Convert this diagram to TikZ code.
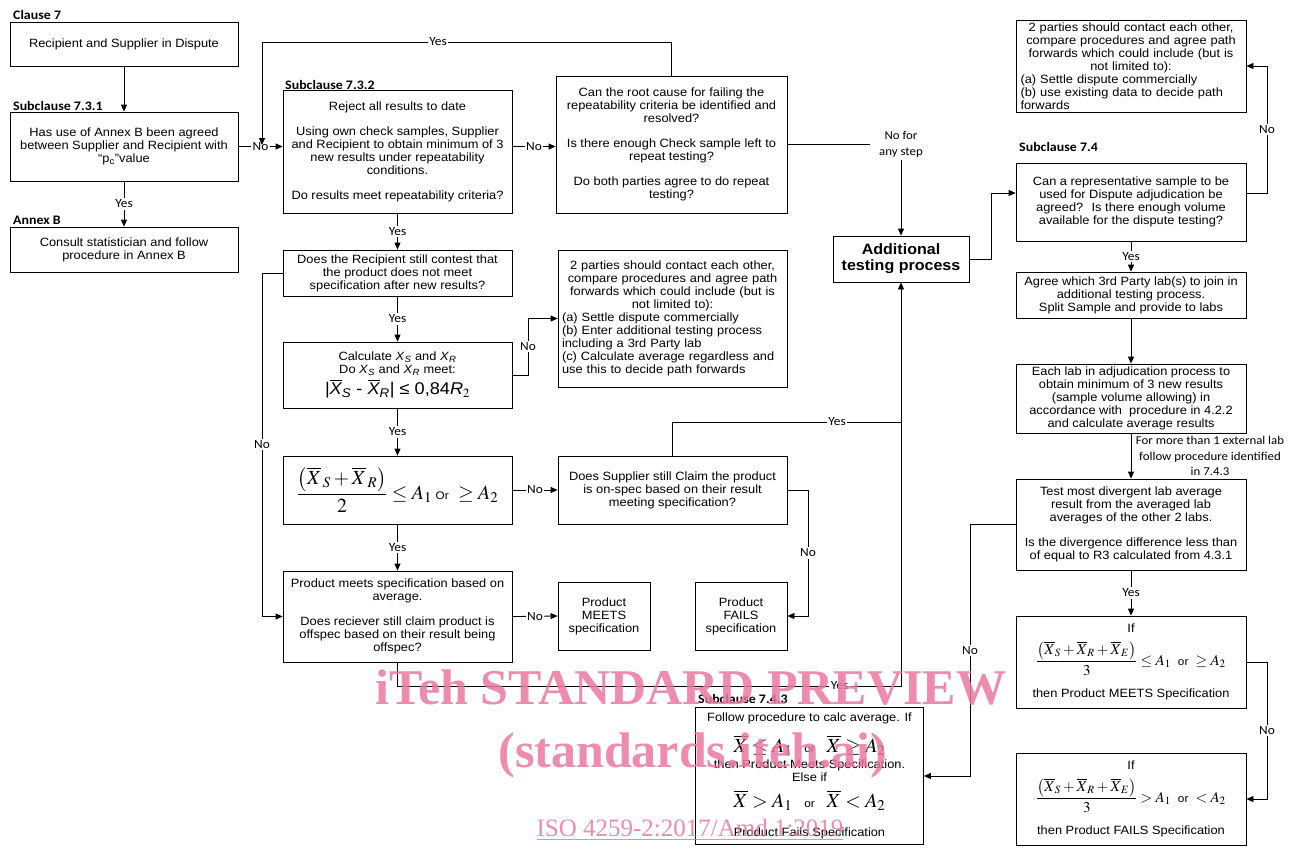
\documentclass[tikz,border=0pt]{standalone}
\usepackage{amsmath}
\usepackage{mathptmx}
\usepackage{fontspec}
\setmainfont{Liberation Sans}[FakeStretch=1.07]
\newfontfamily\calfont{Carlito}[FakeStretch=1.07]
\newfontfamily\wmfont{Liberation Serif}
\usetikzlibrary{arrows.meta}
\definecolor{wmpink}{RGB}{234,120,160}
\newcommand\Lline[1]{\makebox[\linewidth][l]{#1}}
\newcommand\fm[2]{{\fontsize{#1}{#1}\selectfont$#2$}}
\newcommand\smalltxt[1]{{\fontsize{11}{12}\selectfont #1}}
\begin{document}
\begin{tikzpicture}[x=1pt,y=-1pt,
  box/.style={draw, line width=0.8pt, inner sep=2pt, align=center, font=\fontsize{12}{13}\selectfont},
  arr/.style={line width=0.8pt,-{Triangle[length=7pt,width=6pt]}},
  conn/.style={line width=0.8pt},
  lab/.style={fill=white, inner sep=1.5pt, font=\calfont\fontsize{12.5}{13}\selectfont},
  note/.style={align=center, inner sep=1pt, font=\calfont\fontsize{12}{15.5}\selectfont},
  head/.style={anchor=base west, inner sep=0pt, font=\calfont\bfseries\fontsize{13}{14}\selectfont},
  wm/.style={text=wmpink, opacity=0.85, inner sep=0pt, anchor=base}]
\useasboundingbox (0,0) rectangle (1290,847);
\fill[white] (0,0) rectangle (1290,847);

% headings
\node[head] (h1) at (13,19) {Clause 7};
\node[head] (h2) at (13,110) {Subclause 7.3.1};
\node[head] (h3) at (13,224) {Annex B};
\node[head] (h4) at (285,89) {Subclause 7.3.2};
\node[head] (h5) at (1019,151) {Subclause 7.4};
\node[head] (h6) at (698,703) {Subclause 7.4.3};

% boxes
\node[box, minimum width=228, minimum height=44] (A) at (124,44) {Recipient and Supplier in Dispute};
\node[box, minimum width=228, minimum height=69] (B) at (124,146.5) {Has use of Annex B been agreed\\between Supplier and Recipient with\\“p\textsubscript{c}”value};
\node[box, minimum width=228, minimum height=45] (C) at (124,249.5) {Consult statistician and follow\\procedure in Annex B};
\node[box, minimum width=229, minimum height=123] (D) at (397.5,151.5) {Reject all results to date\\[12pt]Using own check samples, Supplier\\and Recipient to obtain minimum of 3\\new results under repeatability\\conditions.\\[12pt]Do results meet repeatability criteria?};
\node[box, minimum width=231, minimum height=137] (E) at (671.5,144.5) {Can the root cause for failing the\\repeatability criteria be identified and\\resolved?\\[12pt]Is there enough Check sample left to\\repeat testing?\\[12pt]Do both parties agree to do repeat\\testing?};
\node[box, minimum width=230, minimum height=92, text width=221] (F) at (1131,66) {2 parties should contact each other,\\compare procedures and agree path\\forwards which could include (but is\\not limited to):\\\Lline{(a) Settle dispute commercially}\\\Lline{(b) use existing data to decide path}\\\Lline{forwards}};
\node[box, minimum width=230, minimum height=78] (G) at (1131,202) {Can a representative sample to be\\used for Dispute adjudication be\\agreed?~ Is there enough volume\\available for the dispute testing?};
\node[box, minimum width=136, minimum height=46, font=\bfseries\fontsize{15}{16}\selectfont] (H) at (901,259) {Additional\\testing process};
\node[box, minimum width=229, minimum height=46] (I) at (397.5,273) {Does the Recipient still contest that\\the product does not meet\\specification after new results?};
\node[box, minimum width=229, minimum height=66] (J) at (397.5,375) {Calculate \textit{X}$_{\textit{S}}$ and \textit{X}$_{\textit{R}}$\\Do \textit{X}$_{\textit{S}}$ and \textit{X}$_{\textit{R}}$ meet:\\[3pt]{\fontsize{17}{18}\selectfont |$\overline{\textit{X}}_{\textit{S}}$ - $\overline{\textit{X}}_{\textit{R}}$| ≤ 0,84\textit{R}$_{2}$}};
\node[box, minimum width=229, minimum height=137, text width=221] (K) at (672.5,318.5) {2 parties should contact each other,\\compare procedures and agree path\\forwards which could include (but is\\not limited to):\\\Lline{(a) Settle dispute commercially}\\\Lline{(b) Enter additional testing process}\\\Lline{including a 3rd Party lab}\\\Lline{(c) Calculate average regardless and}\\\Lline{use this to decide path forwards}};
\node[box, minimum width=229, minimum height=68] (L) at (397.5,490) {\fm{20}{\dfrac{\left(\overline{X}_{\,S}+\overline{X}_{\,R}\right)}{2}\le A_{1}}~\smalltxt{Or}~\fm{20}{\ \ge A_{2}}};
\node[box, minimum width=229, minimum height=68] (M) at (672.5,490) {Does Supplier still Claim the product\\is on-spec based on their result\\meeting specification?};
\node[box, minimum width=229, minimum height=91] (N) at (397.5,616.5) {Product meets specification based on\\average.\\[12pt]Does reciever still claim product is\\offspec based on their result being\\offspec?};
\node[box, minimum width=92, minimum height=68] (O) at (604,616) {Product\\MEETS\\specification};
\node[box, minimum width=92, minimum height=68] (P) at (741,616) {Product\\FAILS\\specification};
\node[box, minimum width=228, minimum height=137] (Q) at (809.5,776) {Follow procedure to calc average. If\\[10pt]\fm{20}{\overline{X}\le A_{1}}\quad\smalltxt{or}\quad\fm{20}{\overline{X}\ge A_{2}}\\[3pt]then Product Meets Specification.\\Else if\\[8pt]\fm{20}{\overline{X}> A_{1}}\quad\smalltxt{or}\quad\fm{20}{\overline{X}< A_{2}}\\[16pt]Product Fails Specification};
\node[box, minimum width=230, minimum height=46] (R) at (1131,295) {Agree which 3rd Party lab(s) to join in\\additional testing process.\\Split Sample and provide to labs};
\node[box, minimum width=230, minimum height=69] (S) at (1131,398.5) {Each lab in adjudication process to\\obtain minimum of 3 new results\\(sample volume allowing) in\\accordance with~ procedure in 4.2.2\\and calculate average results};
\node[box, minimum width=230, minimum height=91] (T) at (1131,524.5) {Test most divergent lab average\\result from the averaged lab\\averages of the other 2 labs.\\[12pt]Is the divergence difference less than\\of equal to R3 calculated from 4.3.1};
\node[box, minimum width=230, minimum height=92] (U) at (1131,662) {If\\[8pt]\fm{15}{\dfrac{\left(\overline{X}_{S}+\overline{X}_{R}+\overline{X}_{E}\right)}{3}\le A_{1}}\ \ \smalltxt{or}\ \ \fm{15}{\ge A_{2}}\\[12pt]then Product MEETS Specification};
\node[box, minimum width=230, minimum height=92] (V) at (1131,799) {If\\[8pt]\fm{15}{\dfrac{\left(\overline{X}_{S}+\overline{X}_{R}+\overline{X}_{E}\right)}{3}> A_{1}}\ \ \smalltxt{or}\ \ \fm{15}{< A_{2}}\\[12pt]then Product FAILS Specification};

% coordinates
\coordinate (yesend) at (262,145);
\coordinate (join) at (901,422);

% connectors left column
\draw[arr] (A.south) -- (B.north);
\draw[arr] (B.south) -- node[lab] (l1) {Yes} (C.north);
\draw[arr] (B.east) -- node[lab] (l2) {No} (B.east -| D.west);
\draw[arr] (B.east -| D.east) -- node[lab] (l3) {No} (B.east -| E.west);
\draw[arr] (E.north) -- (E.north |- 0,42) -- node[lab, pos=0.57] (l4) {Yes} (262,42) -- (yesend);
\draw[arr] (D.south) -- node[lab] (l5) {Yes} (I.north);
\draw[arr] (I.south) -- node[lab] (l6) {Yes} (J.north);
\draw[arr] (I.west) -- (262,273) -- node[lab] (l7) {No} (262,616.5) -- (N.west);
\draw[arr] (J.east) -- (528,375) -- node[lab] (l8) {No} (528,318.5) -- (K.west);
\draw[arr] (J.south) -- node[lab] (l9) {Yes} (L.north);
\draw[arr] (L.east) -- node[lab] (l10) {No} (M.west);
\draw[arr] (L.south) -- node[lab] (l11) {Yes} (N.north);
\draw[arr] (N.east) -- node[lab] (l12) {No} (O.west);
\draw[arr] (M.east) -- (808,490) -- node[lab] (l13) {No} (808,616) -- (P.east);
\draw[conn] (M.north) -- (672.5,422) -- node[lab, pos=0.72] (l14) {Yes} (join);
\draw[arr] (N.south) -- (397.5,686) -- node[lab, pos=0.878] (l15) {Yes} (901,686) -- (H.south);
\draw[arr] (E.east) -- (H.north |- E.east) node[lab, inner xsep=9pt, inner ysep=3pt, align=center, font=\calfont\fontsize{12}{15.5}\selectfont] (l16) {No for\\any step} -- (H.north);

% right column
\draw[arr] (H.east) -- (991,259) -- (991,193) -- (G.west |- 0,193);
\draw[arr] (G.east |- 0,193) -- (1267,193) -- node[lab] (l17) {No} (1267,66) -- (F.east);
\draw[arr] (G.south) -- node[lab] (l18) {Yes} (R.north);
\draw[arr] (R.south) -- (S.north);
\draw[arr] (S.south) -- (T.north);
\node[note] (l19) at (1210,456) {For more than 1 external lab\\follow procedure identified\\in 7.4.3};
\draw[arr] (T.south) -- node[lab] (l20) {Yes} (U.north);
\draw[arr] (U.east) -- (1267,662) -- node[lab] (l21) {No} (1267,799) -- (V.east);
\draw[arr] (T.west) -- (970,524.5) -- node[lab] (l22) {No} (970,776) -- (Q.east);

% watermark
\node[wm, font=\wmfont\bfseries\fontsize{50}{50}\selectfont] (wm1) at (691,704) {iTeh STANDARD PREVIEW};
\node[wm, font=\wmfont\bfseries\fontsize{50}{50}\selectfont] (wm2) at (693,767) {(standards.iteh.ai)};
\node[wm, font=\wmfont\fontsize{25}{25}\selectfont] (wm3) at (690,836) {\underline{ISO 4259-2:2017/Amd 1:2019}};
\end{tikzpicture}
\end{document}
